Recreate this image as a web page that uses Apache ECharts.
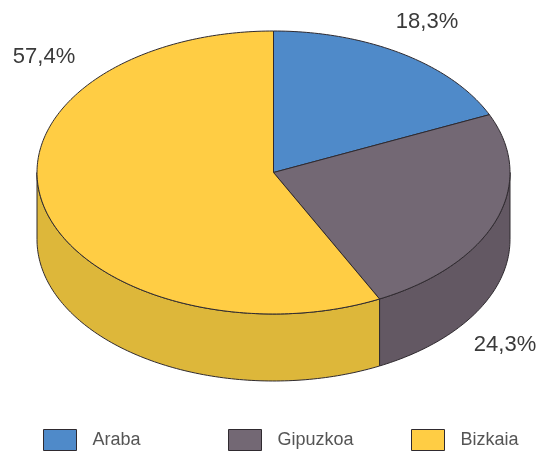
<!DOCTYPE html>
<html><head><meta charset="utf-8">
<style>html,body{margin:0;padding:0;background:#fff}#c{width:538px;height:456px}</style>
<script src="https://cdn.jsdelivr.net/npm/echarts@6/dist/echarts.min.js"></script>
</head><body><div id="c"></div>
<script>
const categories = ['Araba', 'Gipuzkoa', 'Bizkaia'];
const percentages = [18.3, 24.3, 57.4];
const percentLabels = ['18,3%', '24,3%', '57,4%'];
const topColors = ['#4F8AC9', '#736874', '#FFCD44'];
const wallColors = ['#44779F', '#635863', '#DDB73A'];

const geom = { cx: 273.5, cy: 172.5, rx: 236.5, ry: 141.5, depth: 67 };
const labelAnchors = [[427, 22], [505, 345], [44, 57]];
const legendLeft = [43, 228, 411];
const total = percentages.reduce((a, b) => a + b, 0);
const stroke = '#2f2a2f';

function pt(frac, dy) {
  const t = frac * 2 * Math.PI;
  return [geom.cx + geom.rx * Math.sin(t), geom.cy - geom.ry * Math.cos(t) + (dy || 0)];
}
function arc(f0, f1, dy) {
  const n = Math.max(2, Math.ceil((f1 - f0) * 360));
  const out = [];
  for (let i = 0; i <= n; i++) out.push(pt(f0 + (f1 - f0) * i / n, dy));
  return out;
}
function renderSlice(idx) {
  return function (params, api) {
    const value = api.value(0);
    let before = 0;
    for (let i = 0; i < idx; i++) before += percentages[i];
    const f0 = before / total, f1 = (before + value) / total;
    const children = [];
    // The side wall is only visible along the front half of the ellipse.
    const w0 = Math.max(f0, 0.25), w1 = Math.min(f1, 0.75);
    if (w1 > w0) {
      const points = arc(w0, w1, 0).concat(arc(w0, w1, geom.depth).reverse());
      children.push({
        type: 'polygon', shape: { points },
        style: { fill: wallColors[idx], stroke, lineWidth: 1 }
      });
    }
    children.push({
      type: 'polygon',
      shape: { points: [[geom.cx, geom.cy]].concat(arc(f0, f1, 0)) },
      style: { fill: topColors[idx], stroke, lineWidth: 1, lineJoin: 'round' }
    });
    children.push({
      type: 'text',
      style: {
        text: percentLabels[idx], x: labelAnchors[idx][0], y: labelAnchors[idx][1],
        align: 'center', verticalAlign: 'middle',
        font: '22px "Liberation Sans", Arial, sans-serif', fill: '#3a3a3a'
      }
    });
    return { type: 'group', children };
  };
}

const chart = echarts.init(document.getElementById('c'), null, { renderer: 'canvas' });
chart.setOption({
  animation: false,
  backgroundColor: '#ffffff',
  legend: categories.map((name, i) => ({
    data: [name], left: legendLeft[i], top: 429, padding: 0,
    icon: 'rect', itemWidth: 33, itemHeight: 21,
    itemStyle: { borderColor: stroke, borderWidth: 1 },
    textStyle: {
      fontFamily: '"Liberation Sans", Arial, sans-serif', fontSize: 18,
      color: '#555555', padding: [0, 0, 0, 11]
    },
    selectedMode: false
  })),
  series: categories.map((name, i) => ({
    type: 'custom', name, coordinateSystem: 'none',
    itemStyle: { color: topColors[i] },
    data: [[percentages[i]]],
    renderItem: renderSlice(i),
    silent: true
  }))
});
</script></body></html>
